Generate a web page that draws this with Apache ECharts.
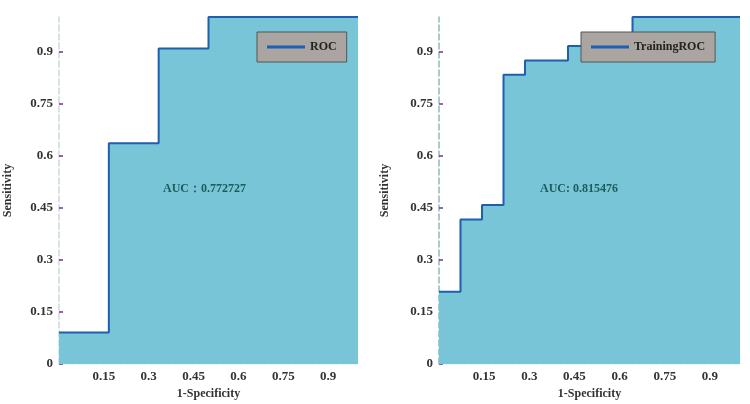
<!DOCTYPE html>
<html>
<head>
<meta charset="utf-8">
<script src="https://cdn.jsdelivr.net/npm/echarts@6/dist/echarts.min.js"></script>
<style>
  html, body { margin: 0; padding: 0; background: #fff; }
  #main { width: 750px; height: 404px; }
</style>
</head>
<body>
<div id="main"></div>
<script>
// ROC steps (x = 1-Specificity, y = Sensitivity)
var leftFpr = [0, 0.1667, 0.3333, 0.5, 1];
var leftTpr = [0.0909, 0.6364, 0.9091, 1, 1];
var rightFpr = [0, 0.0714, 0.1429, 0.2143, 0.2857, 0.4286, 0.6429, 1];
var rightTpr = [0.2083, 0.4167, 0.4583, 0.8333, 0.875, 0.9167, 1, 1];
var leftName = 'ROC';
var rightName = 'TrainingROC';
var leftAuc = 'AUC：0.772727';
var rightAuc = 'AUC: 0.815476';

function pairs(xs, ys) {
    var out = [];
    for (var i = 0; i < xs.length; i++) out.push([xs[i], ys[i]]);
    return out;
}

var font = 'Liberation Serif';
var labelStyle = { fontFamily: font, fontWeight: 'bold', fontSize: 13, color: '#333' };

function xAxis(idx) {
    return {
        type: 'value', gridIndex: idx, min: 0, max: 1, interval: 0.15,
        name: '1-Specificity', nameLocation: 'middle', nameGap: 22,
        nameTextStyle: { fontFamily: font, fontWeight: 'bold', fontSize: 12, color: '#333' },
        axisLine: { show: true, lineStyle: { color: '#e6f4f6', type: 'dashed', width: 1 } },
        axisTick: { show: true, inside: true, length: 5, lineStyle: { color: '#1f5fb0', width: 1.5 } },
        axisLabel: Object.assign({ margin: 6, showMinLabel: false, showMaxLabel: false }, labelStyle),
        splitLine: { show: false }
    };
}

function yAxis(idx, gap, lineColor) {
    return {
        type: 'value', gridIndex: idx, min: 0, max: 1, interval: 0.15,
        name: 'Sensitivity', nameLocation: 'middle', nameGap: gap,
        nameTextStyle: { fontFamily: font, fontWeight: 'bold', fontSize: 12, color: '#333' },
        axisLine: { show: true, lineStyle: { color: lineColor, type: 'dashed', width: 1.5 } },
        axisTick: { show: true, inside: true, length: 4, lineStyle: { color: '#7030a0', width: 1.5 } },
        axisLabel: Object.assign({ margin: 6, showMaxLabel: false }, labelStyle),
        splitLine: { show: false }
    };
}

function rocSeries(name, idx, data) {
    return {
        name: name, type: 'line', xAxisIndex: idx, yAxisIndex: idx,
        step: 'end', symbol: 'none', data: data,
        lineStyle: { color: '#1f5fb0', width: 2 },
        itemStyle: { color: '#1f5fb0' },
        areaStyle: { color: '#77c5d7', opacity: 1 }
    };
}

function legend(name, left, width) {
    return {
        data: [name], left: left, top: 32, width: width,
        backgroundColor: '#aaa5a0', borderColor: '#555', borderWidth: 1,
        padding: [9, 10, 9, 10], itemWidth: 38, itemHeight: 3, itemGap: 6,
        icon: 'path://M0,0H40V3H0Z',
        textStyle: { fontFamily: font, fontWeight: 'bold', fontSize: 12, color: '#222' }
    };
}

var myChart = echarts.init(document.getElementById('main'));
myChart.setOption({
    backgroundColor: '#fff',
    animation: false,
    grid: [
        { left: 59, right: 392, top: 17, bottom: 40, outerBoundsMode: 'none' },
        { left: 439, right: 10, top: 17, bottom: 40, outerBoundsMode: 'none' }
    ],
    title: [
        { text: leftAuc, left: 163, top: 183, padding: 0,
          textStyle: { fontFamily: font, fontWeight: 'bold', fontSize: 12, color: '#1d5c5c' } },
        { text: rightAuc, left: 540, top: 183, padding: 0,
          textStyle: { fontFamily: font, fontWeight: 'bold', fontSize: 12, color: '#1d5c5c' } }
    ],
    legend: [legend(leftName, 257, 90), legend(rightName, 581, 146)],
    xAxis: [xAxis(0), xAxis(1)],
    yAxis: [yAxis(0, 45, '#c9d9dc'), yAxis(1, 48, '#8fbcb8')],
    series: [
        rocSeries(leftName, 0, pairs(leftFpr, leftTpr)),
        rocSeries(rightName, 1, pairs(rightFpr, rightTpr))
    ]
});
</script>
</body>
</html>
